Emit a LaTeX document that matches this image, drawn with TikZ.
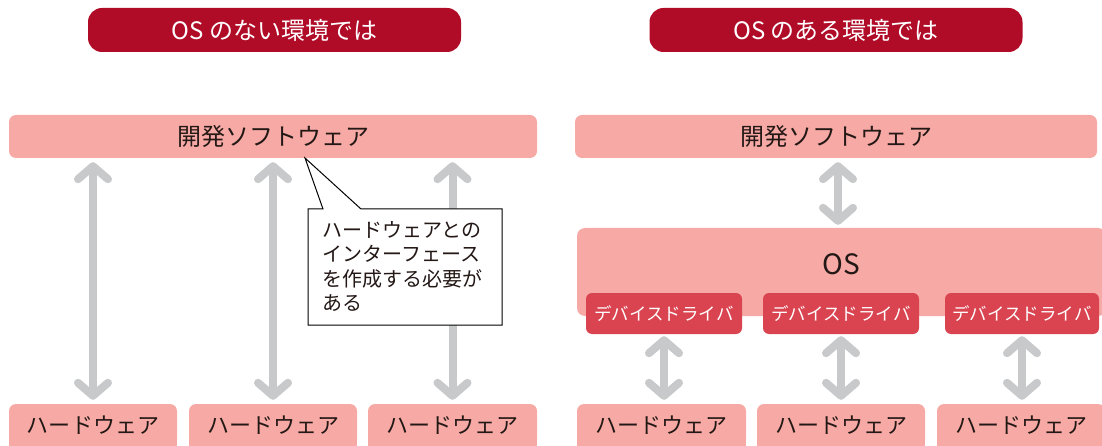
\documentclass[tikz,border=0pt]{standalone}
\usepackage{fontspec}
\setmainfont{Noto Sans CJK JP}
\usetikzlibrary{arrows.meta,calc}
\definecolor{hdr}{RGB}{176,11,39}
\definecolor{pk}{RGB}{247,170,165}
\definecolor{ddred}{RGB}{217,68,80}
\definecolor{arr}{RGB}{200,201,202}
\definecolor{ink}{RGB}{35,24,21}
\tikzset{
 hdrbox/.style={fill=hdr, rounded corners=14pt, minimum width=373pt, minimum height=44pt, text=white, font=\fontsize{24}{24}\selectfont, inner sep=0pt},
 swbox/.style={fill=pk, rounded corners=7pt, minimum height=43pt, text=ink, font=\fontsize{24}{24}\selectfont, inner sep=0pt},
 hwbox/.style={fill=pk, rounded corners=7pt, minimum height=42pt, text=ink, font=\fontsize{22}{22}\selectfont, inner sep=0pt},
 osbox/.style={fill=pk, rounded corners=8pt, minimum height=88pt, text=ink, text depth=16pt, font=\fontsize{28}{28}\selectfont, inner sep=0pt},
 ddbox/.style={fill=ddred, rounded corners=6pt, minimum height=41pt, text=white, font=\fontsize{17.5}{17.5}\selectfont, inner sep=0pt},
 barb/.tip={Straight Barb[length=13pt,width=30pt,round]},
 dbl/.style={draw=arr, line width=8pt, barb-barb},
 noteline/.style={draw=black, fill=white, line width=1pt, line join=miter},
 notetext/.style={align=left, text=ink, font=\fontsize{20}{24.5}\selectfont, inner sep=0pt}
}
\begin{document}
\begin{tikzpicture}[x=1pt,y=-1pt]
\useasboundingbox (0,0) rectangle (1102,446);
\clip (0,0) rectangle (1102,446);
% headers
\node[hdrbox] (hdrL) at (274.5,30) {OS のない環境では};
\node[hdrbox] (hdrR) at (836,30) {OS のある環境では};
% software boxes
\node[swbox, minimum width=528pt] (swL) at (273,136.5) {開発ソフトウェア};
\node[swbox, minimum width=522pt] (swR) at (836,136.5) {開発ソフトウェア};
% hardware boxes
\node[hwbox, minimum width=168pt] (hwL1) at (93,425) {ハードウェア};
\node[hwbox, minimum width=168pt] (hwL2) at (273,425) {ハードウェア};
\node[hwbox, minimum width=169pt] (hwL3) at (452.5,425) {ハードウェア};
\node[hwbox, minimum width=169pt] (hwR1) at (661.5,425) {ハードウェア};
\node[hwbox, minimum width=168pt] (hwR2) at (841,425) {ハードウェア};
\node[hwbox, minimum width=168pt] (hwR3) at (1021,425) {ハードウェア};
\foreach \n in {hwL1,hwL2,hwL3,hwR1,hwR2,hwR3}{
  \fill[pk] ($(\n.south west)+(0,-8)$) rectangle ($(\n.south east)+(0,10)$);
}
% OS and drivers
\node[osbox, minimum width=529pt] (os) at (841.5,272) {OS};
\node[ddbox, minimum width=156pt] (dd1) at (664,313.5) {デバイスドライバ};
\node[ddbox, minimum width=156pt] (dd2) at (841,313.5) {デバイスドライバ};
\node[ddbox, minimum width=154pt] (dd3) at (1022,313.5) {デバイスドライバ};
% arrows left
\foreach \i in {1,2,3}{
  \draw[dbl, shorten <=4pt, shorten >=4pt] (swL.south -| hwL\i.north) -- (hwL\i.north);
}
% arrows right
\coordinate (osx) at (838,0);
\draw[dbl, shorten <=4pt, shorten >=3pt] (swR.south -| osx) -- (os.north -| osx);
\foreach \i in {1,2,3}{
  \draw[dbl, shorten <=2pt, shorten >=4pt] (dd\i.south) -- (hwR\i.north -| dd\i.south);
}
% callout
\coordinate (ptip) at (305,158);
\draw[noteline] (308,209) -- (323,209) -- (ptip) -- (361,209) -- (502,209) -- (502,325) -- (308,325) -- cycle;
\node[notetext, anchor=north west] (note) at (322,221) {ハードウェアとの\\インターフェース\\を作成する必要が\\ある};
\end{tikzpicture}
\end{document}
